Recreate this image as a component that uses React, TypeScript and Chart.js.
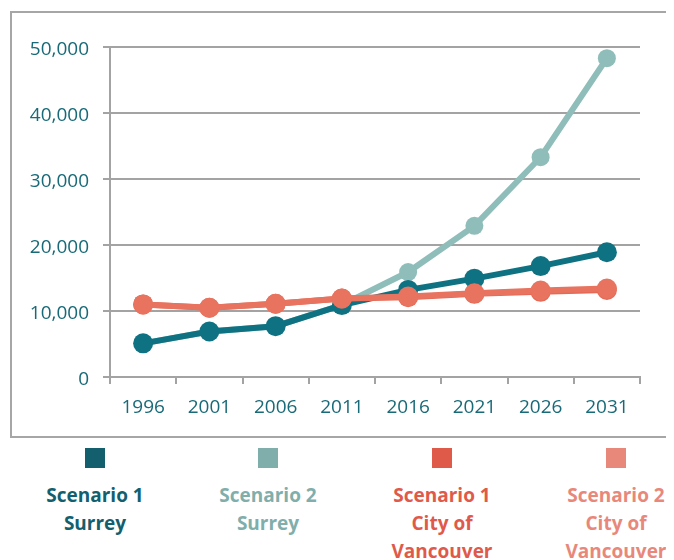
import React, { useEffect, useRef } from "react";
import { Chart, registerables } from "chart.js";

Chart.register(...registerables);

const years = ["1996", "2001", "2006", "2011", "2016", "2021", "2026", "2031"];
const scenario1Surrey = [5100, 6900, 7700, 10900, 13200, 14900, 16800, 18900];
const scenario2Surrey = [5100, 6900, 7700, 10900, 15900, 22900, 33300, 48300];
const scenario1Vancouver = [11000, 10500, 11100, 11900, 12100, 12600, 12900, 13200];
const scenario2Vancouver = [11000, 10500, 11100, 11900, 12200, 12700, 13100, 13400];

const seriesNames = [
  ["Scenario 1", "Surrey"],
  ["Scenario 2", "Surrey"],
  ["Scenario 1", "City of", "Vancouver"],
  ["Scenario 2", "City of", "Vancouver"],
];
const lineColors = ["#0f7282", "#8fbdb9", "#e36a57", "#e8735f"];
const legendColors = ["#135f6e", "#80aeab", "#e05a4a", "#e8887a"];
const drawOrder = [3, 4, 2, 1];
const seriesData = [scenario1Surrey, scenario2Surrey, scenario1Vancouver, scenario2Vancouver];

const FONT = "'Open Sans', sans-serif";
const TICK_COLOR = "#186a78";
const GRID = "#a3a3a3";

export default function App() {
  const ref = useRef<HTMLCanvasElement | null>(null);
  useEffect(() => {
    document.body.style.overflow = "hidden";
    if (!ref.current) return;
    const chart = new Chart(ref.current, {
      type: "line",
      data: {
        labels: years,
        datasets: seriesData.map((d, i) => ({
          label: seriesNames[i].join(" "),
          data: d,
          borderColor: lineColors[i],
          backgroundColor: lineColors[i],
          pointBackgroundColor: lineColors[i],
          pointBorderWidth: 0,
          pointRadius: i === 1 ? 9 : 10,
          borderWidth: 6,
          tension: 0,
          order: drawOrder[i],
        })),
      },
      options: {
        responsive: false,
        animation: false,
        layout: { padding: { left: 0, right: 34, top: 47, bottom: 13 } },
        plugins: { legend: { display: false }, tooltip: { enabled: false } },
        scales: {
          x: {
            offset: true,
            grid: { display: true, drawOnChartArea: false, color: GRID, lineWidth: 2, tickLength: 7, offset: true },
            border: { display: true, color: GRID, width: 2 },
            ticks: { color: TICK_COLOR, font: { family: FONT, size: 19 }, padding: 12, maxRotation: 0 },
            afterFit: (s: any) => { s.height = 50; },
          },
          y: {
            min: 0,
            max: 50000,
            grid: { color: GRID, lineWidth: 2, tickLength: 7 },
            border: { display: true, color: GRID, width: 2 },
            ticks: {
              stepSize: 10000,
              color: TICK_COLOR,
              font: { family: FONT, size: 19 },
              padding: 14,
              labelOffset: 3,
              callback: (v: any) => Number(v).toLocaleString("en-US"),
            },
            afterFit: (s: any) => { s.width = 110; },
          },
        },
      },
    });
    return () => chart.destroy();
  }, []);

  const centers = [95, 268, 442, 616];
  return (
    <div
      style={{
        position: "relative",
        marginTop: -8,
        marginLeft: -8,
        marginRight: -8,
        width: 674,
        height: 560,
        overflow: "hidden",
        background: "#fff",
      }}
    >
      <div
        style={{
          position: "absolute",
          left: 10,
          top: 11,
          width: 700,
          height: 423,
          border: "2px solid #a6a6a6",
        }}
      />
      <canvas ref={ref} width={674} height={440} style={{ position: "absolute", left: 0, top: 0 }} />
      {seriesNames.map((lines, i) => (
        <div key={i}>
          <div
            style={{
              position: "absolute",
              left: centers[i] - 10,
              top: 448,
              width: 20,
              height: 20,
              background: legendColors[i],
            }}
          />
          <div
            style={{
              position: "absolute",
              left: centers[i] - 90,
              top: 481,
              width: 180,
              textAlign: "center",
              fontFamily: FONT,
              fontWeight: 700,
              fontSize: 19,
              lineHeight: "28px",
              color: legendColors[i],
            }}
          >
            {lines.map((t, k) => (
              <div key={k}>{t}</div>
            ))}
          </div>
        </div>
      ))}
    </div>
  );
}
